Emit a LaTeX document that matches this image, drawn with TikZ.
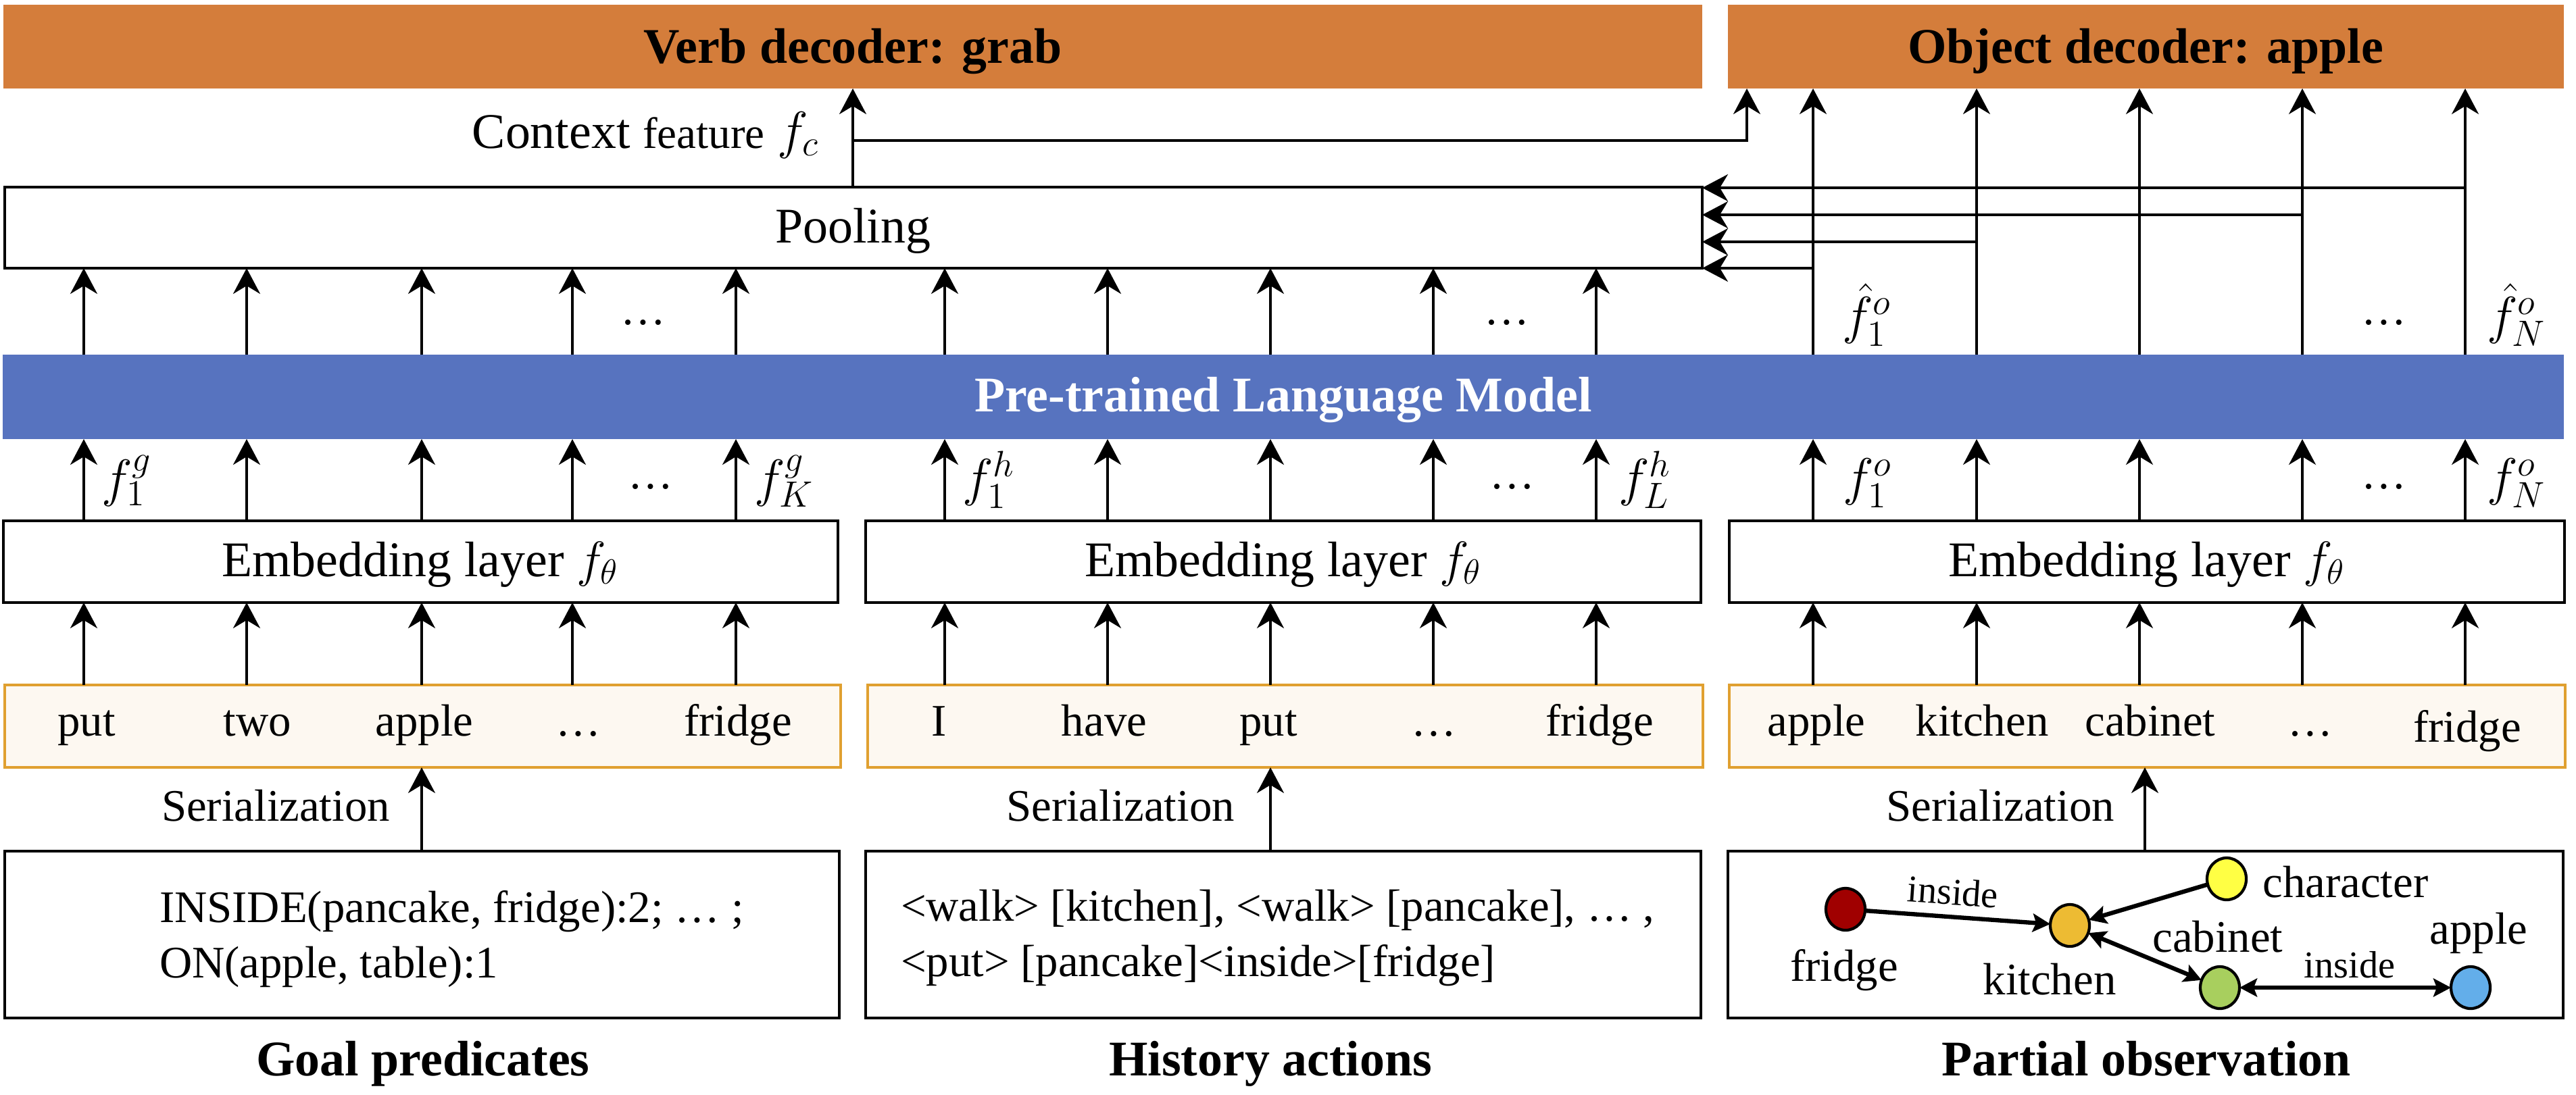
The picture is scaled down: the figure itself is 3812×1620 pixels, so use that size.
\RequirePackage{fix-cm}
\documentclass[tikz,border=0pt]{standalone}
\usepackage{fontspec}
\setmainfont{Liberation Serif}
\usetikzlibrary{arrows.meta,fit,shapes.geometric}
\definecolor{decor}{RGB}{212,125,59}
\definecolor{lmblue}{RGB}{87,115,191}
\definecolor{tokfill}{RGB}{253,248,241}
\definecolor{tokborder}{RGB}{224,160,48}
\definecolor{nfridge}{RGB}{160,0,0}
\definecolor{nkitchen}{RGB}{237,187,51}
\definecolor{nchar}{RGB}{255,255,68}
\definecolor{ncab}{RGB}{168,207,94}
\definecolor{napple}{RGB}{99,174,234}
\begin{document}
\begin{tikzpicture}[x=0.01cm,y=-0.01cm,
  every node/.style={inner sep=0pt,outer sep=0pt},
  arr/.style={line width=0.95pt,-{Stealth[length=0.38cm,width=0.4cm,inset=0.12cm]}},
  garr/.style={line width=1.8pt,-{Stealth[length=0.26cm,width=0.27cm,inset=0.05cm]}},
  gdarr/.style={line width=1.8pt,{Stealth[length=0.26cm,width=0.27cm,inset=0.05cm]}-{Stealth[length=0.26cm,width=0.27cm,inset=0.05cm]}},
  box/.style={draw,line width=1.1pt},
  tokbox/.style={draw=tokborder,fill=tokfill,line width=1.1pt},
  dec/.style={fill=decor},
  f21/.style={font=\fontsize{21pt}{25pt}\selectfont},
  f21b/.style={font=\fontsize{21pt}{25pt}\selectfont\bfseries},
  f19/.style={font=\fontsize{19pt}{23pt}\selectfont},
  f16/.style={font=\fontsize{16pt}{19pt}\selectfont},
  mlab/.style={font=\fontsize{22pt}{26pt}\selectfont,anchor=west},
  gnode/.style={ellipse,draw,line width=1.2pt,minimum width=0.58cm,minimum height=0.62cm}
]
\useasboundingbox (0,0) rectangle (3812,1620);

% ---- boxes ----
\node[dec,fit={(5,7) (2519,131)}] (verb) {};
\node[dec,fit={(2557,7) (3794,131)}] (obj) {};
\node[box,fit={(7,277) (2519,397)}] (pool) {};
\node[fill=lmblue,fit={(4,525) (3794,650)}] (lm) {};
\node[box,fit={(5,771) (1240,892)}] (embA) {};
\node[box,fit={(1281,771) (2517,892)}] (embB) {};
\node[box,fit={(2559,771) (3795,892)}] (embC) {};
\node[tokbox,fit={(7,1014) (1244,1136)}] (tokA) {};
\node[tokbox,fit={(1284,1014) (2520,1136)}] (tokB) {};
\node[tokbox,fit={(2559,1014) (3796,1136)}] (tokC) {};
\node[box,fit={(7,1260) (1242,1507)}] (srcA) {};
\node[box,fit={(1281,1260) (2517,1507)}] (srcB) {};
\node[box,fit={(2557,1260) (3793,1507)}] (srcC) {};

% ---- box texts ----
\node[f21b,anchor=base] (verbT) at (1262,93) {Verb decoder: grab};
\node[f21b,anchor=base] (objT) at (3175,93) {Object decoder: apple};
\node[f21,anchor=base] (poolT) at (1262,359) {Pooling};
\node[f21b,anchor=base,text=white] (lmT) at (1899,609) {Pre-trained Language Model};
\node[f21,anchor=base] (embAT) at (622,853) {Embedding layer $f_\theta$};
\node[f21,anchor=base] (embBT) at (1899,853) {Embedding layer $f_\theta$};
\node[f21,anchor=base] (embCT) at (3177,853) {Embedding layer $f_\theta$};

% ---- tokens ----
\foreach \t/\x/\n in {put/128/ta1,two/381/ta2,apple/628/ta3,…/856/ta4,fridge/1092/ta5,
  I/1390/tb1,have/1634/tb2,put/1877/tb3,…/2122/tb4,fridge/2367/tb5,
  apple/2688/tc1,kitchen/2933/tc2,cabinet/3182/tc3,…/3419/tc4}
  \node[f19,anchor=base] (\n) at (\x,1089) {\t};
\node[f19,anchor=base] (tc5) at (3651,1098) {fridge};

% ---- arrow columns ----
\foreach \x [count=\i] in {124,365,624,847,1089,1398,1639,1880,2121,2362,2683,2925,3166,3407,3648}
  \coordinate (c\i) at (\x,0);
\foreach \i in {1,...,5}{
  \draw[arr] (c\i |- tokA.north) -- (c\i |- embA.south);
  \draw[arr] (c\i |- embA.north) -- (c\i |- lm.south);
  \draw[arr] (c\i |- lm.north) -- (c\i |- pool.south);
}
\foreach \i in {6,...,10}{
  \draw[arr] (c\i |- tokB.north) -- (c\i |- embB.south);
  \draw[arr] (c\i |- embB.north) -- (c\i |- lm.south);
  \draw[arr] (c\i |- lm.north) -- (c\i |- pool.south);
}
\foreach \i in {11,...,15}{
  \draw[arr] (c\i |- tokC.north) -- (c\i |- embC.south);
  \draw[arr] (c\i |- embC.north) -- (c\i |- lm.south);
  \draw[arr] (c\i |- lm.north) -- (c\i |- obj.south);
}
\coordinate (h1) at (0,278);
\coordinate (h2) at (0,318);
\coordinate (h3) at (0,358);
\coordinate (h4) at (0,397);
\draw[arr] (c15 |- h1) -- (pool.east |- h1);
\draw[arr] (c14 |- h2) -- (pool.east |- h2);
\draw[arr] (c12 |- h3) -- (pool.east |- h3);
\draw[arr] (c11 |- h4) -- (pool.east |- h4);

% ---- context feature ----
\coordinate (cx) at (1262,0);
\coordinate (cy) at (0,208);
\coordinate (cx2) at (2585,0);
\draw[arr] (cx |- pool.north) -- (cx |- verb.south);
\draw[arr] (cx |- cy) -| (cx2 |- obj.south);
\node[f21,anchor=base east] (ctx) at (1212,219) {Context {\fontsize{18.5pt}{22pt}\selectfont feature} {\fontsize{22pt}{26pt}\selectfont$f_c$}};

% ---- feature labels ----
\node[mlab] (lg1) at (150,712) {$f_1^g$};
\node[mlab] (lgK) at (1116,712) {$f_K^g$};
\node[mlab] (lh1) at (1424,710) {$f_1^h$};
\node[mlab] (lhL) at (2395,710) {$f_L^h$};
\node[mlab] (lo1) at (2727,715) {$f_1^o$};
\node[mlab] (loN) at (3680,715) {$f_N^o$};
\node[mlab] (uo1) at (2726,466) {$\hat{f}_1^o$};
\node[mlab] (uoN) at (3680,466) {$\hat{f}_N^o$};
\node[f19,anchor=base] (d1) at (963,723) {…};
\node[f19,anchor=base] (d2) at (2238,723) {…};
\node[f19,anchor=base] (d3) at (3528,723) {…};
\node[f19,anchor=base] (u1) at (952,480) {…};
\node[f19,anchor=base] (u2) at (2230,480) {…};
\node[f19,anchor=base] (u3) at (3528,480) {…};

% ---- serialization ----
\coordinate (s1) at (624,0);
\coordinate (s2) at (1880,0);
\coordinate (s3) at (3174,0);
\draw[arr] (s1 |- srcA.north) -- (s1 |- tokA.south);
\draw[arr] (s2 |- srcB.north) -- (s2 |- tokB.south);
\draw[arr] (s3 |- srcC.north) -- (s3 |- tokC.south);
\node[f19,anchor=base] (ser1) at (408,1215) {Serialization};
\node[f19,anchor=base] (ser2) at (1658,1215) {Serialization};
\node[f19,anchor=base] (ser3) at (2960,1215) {Serialization};

% ---- source texts ----
\node[f19,anchor=base west] (ga) at (236,1365) {INSIDE(pancake, fridge):2; … ;};
\node[f19,anchor=base west] (gb) at (236,1447) {ON(apple, table):1};
\node[f19,anchor=base west] (ha) at (1333,1363) {<walk> [kitchen], <walk> [pancake], … ,};
\node[f19,anchor=base west] (hb) at (1333,1445) {<put> [pancake]<inside>[fridge]};

% ---- graph ----
\node[gnode,fill=nfridge] (nf) at (2731,1346) {};
\node[gnode,fill=nkitchen] (nk) at (3063,1370) {};
\node[gnode,fill=nchar] (nc) at (3295,1301) {};
\node[gnode,fill=ncab] (nb) at (3285,1462) {};
\node[gnode,fill=napple] (na) at (3656,1462) {};
\draw[garr] (nf) -- (nk);
\draw[garr] (nc) -- (nk);
\draw[gdarr] (nk) -- (nb);
\draw[gdarr] (nb) -- (na);
\node[f16,rotate=-4] (li1) at (2890,1320) {inside};
\node[f16] (li2) at (3477,1428) {inside};
\node[f19,anchor=base] (lf) at (2729,1452) {fridge};
\node[f19,anchor=base] (lk) at (3033,1472) {kitchen};
\node[f19,anchor=base] (lc) at (3471,1328) {character};
\node[f19,anchor=base] (lb) at (3282,1409) {cabinet};
\node[f19,anchor=base] (la) at (3668,1397) {apple};

% ---- section titles ----
\node[f21b,anchor=base] (t1) at (626,1592) {Goal predicates};
\node[f21b,anchor=base] (t2) at (1880,1592) {History actions};
\node[f21b,anchor=base] (t3) at (3176,1592) {Partial observation};
\end{tikzpicture}
\end{document}
